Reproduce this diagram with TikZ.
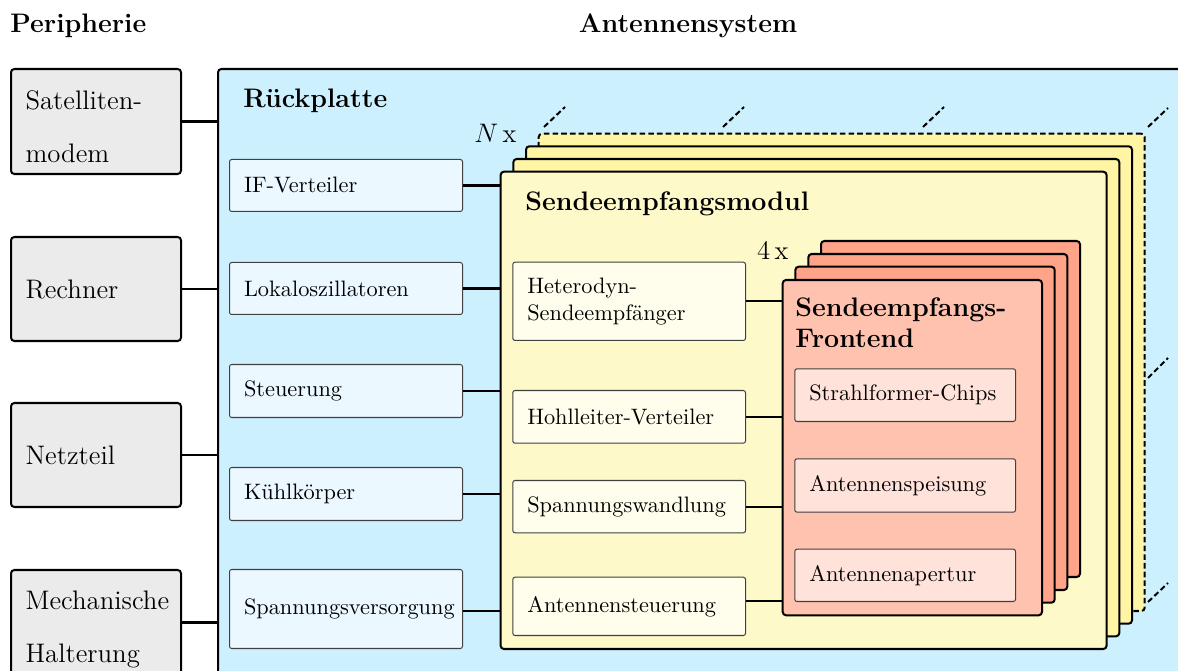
\documentclass[tikz,border=0pt]{standalone}
\definecolor{gc}{RGB}{235,235,235}
\definecolor{rpc}{RGB}{205,240,255}
\definecolor{ibc}{RGB}{235,248,255}
\definecolor{yfc}{RGB}{253,249,200}
\definecolor{ybc}{RGB}{255,245,165}
\definecolor{yic}{RGB}{255,254,236}
\definecolor{ffc}{RGB}{255,194,174}
\definecolor{fbc}{RGB}{255,164,136}
\definecolor{fic}{RGB}{255,226,218}
\newcommand\bxn[7]{%
  \pgfmathsetmacro\bxw{(#4-#2)*0.448}%
  \pgfmathsetmacro\bxh{(#5-#3)*0.448}%
  \pgfmathsetmacro\bxt{(#4-#2)*0.448-13}%
  \node[#1, anchor=north west, inner xsep=6.5pt, inner ysep=0pt,
        minimum width=\bxw pt, minimum height=\bxh pt, text width=\bxt pt,
        align=left, execute at begin node={\hyphenpenalty=10000\relax}] (#6) at (#2,#3) {#7};}
\begin{document}
\begin{tikzpicture}[x=0.448pt,y=-0.448pt,
  pbox/.style={draw=black, line width=0.9pt, fill=gc, rounded corners=1.5pt, font=\large},
  ibox/.style={draw=black!75, line width=0.45pt, rounded corners=1pt},
  card/.style={draw=black, line width=0.9pt, rounded corners=1.5pt},
  dcard/.style={card, dash pattern=on 2.5pt off 1.4pt},
  conn/.style={line width=0.9pt},
  dline/.style={line width=0.9pt, dash pattern=on 2.5pt off 1.4pt},
  title/.style={font=\large\bfseries, inner sep=0pt}]
\useasboundingbox (0,0) rectangle (1178,671);
\clip (0,0) rectangle (1178,671);

% headings
\node[title, anchor=base west] (hper) at (10,33) {Peripherie};
\node[title, anchor=base] (hant) at (688,33) {Antennensystem};

% periphery
\bxn{pbox}{10}{68}{180}{173}{sat}{\rule{0pt}{13pt}Satelliten-\\[10pt]modem}
\bxn{pbox}{10}{236}{180}{340}{rech}{Rechner}
\bxn{pbox}{10}{402}{180}{506}{netz}{Netzteil}
\bxn{pbox}{10}{569}{180}{674}{mech}{\rule{0pt}{14.5pt}Mechanische\\[10pt]Halterung}

% Rueckplatte
\bxn{card, fill=rpc}{217}{68}{1260}{730}{rp}{}
\node[title, anchor=base west] (rptitle) at (243,108) {Rückplatte};

\bxn{ibox, fill=ibc}{229}{159}{462}{211}{ifv}{IF-Verteiler}
\bxn{ibox, fill=ibc}{229}{262}{462}{314}{lo}{Lokaloszillatoren}
\bxn{ibox, fill=ibc}{229}{364}{462}{417}{steu}{Steuerung}
\bxn{ibox, fill=ibc}{229}{467}{462}{520}{kuehl}{Kühlkörper}
\bxn{ibox, fill=ibc}{229}{569}{462}{648}{svers}{Spannungsversorgung}

% periphery connectors
\draw[conn] (sat.east) -- (sat.east -| rp.west);
\draw[conn] (rech.east) -- (rech.east -| rp.west);
\draw[conn] (netz.east) -- (netz.east -| rp.west);
\draw[conn] (mech.east) -- (mech.east -| rp.west);

% perspective dashes
\draw[dline] (544,127) -- (565,107);
\draw[dline] (723,127) -- (744,107);
\draw[dline] (923,127) -- (944,107);
\draw[dline] (1148,127) -- (1168,108);
\draw[dline] (1148,378) -- (1168,358);
\draw[dline] (1148,602) -- (1168,583);

% Sendeempfangsmodul stack
\bxn{dcard, fill=ybc}{537.7}{132.7}{1143.7}{610}{sem4}{}
\bxn{card, fill=ybc}{525}{145.3}{1131}{622.7}{sem3}{}
\bxn{card, fill=ybc}{512.3}{158}{1118.3}{635.3}{sem2}{}
\bxn{card, fill=yfc}{499.6}{170.7}{1105.6}{648}{sem}{}
\node[font=\large, anchor=base east, inner sep=0pt] (nx) at (517,143) {$N$\,x};
\node[title, anchor=base west] (semtitle) at (525,211) {Sendeempfangsmodul};

\bxn{ibox, fill=yic}{512.3}{261.7}{745}{340}{het}{Heterodyn-\\Sendeempfänger}
\bxn{ibox, fill=yic}{512.3}{390}{745}{442.7}{hohl}{Hohlleiter-Verteiler}
\bxn{ibox, fill=yic}{512.3}{480}{745}{532.3}{swand}{Spannungswandlung}
\bxn{ibox, fill=yic}{512.3}{576.7}{745}{635}{ast}{Antennensteuerung}

\draw[conn] (ifv.east) -- (ifv.east -| sem.west);
\draw[conn] (lo.east) -- (lo.east -| sem.west);
\draw[conn] (steu.east) -- (steu.east -| sem.west);
\draw[conn] (kuehl.east) -- (kuehl.east -| sem.west);
\draw[conn] ([yshift=-0.7pt]svers.east) -- ([yshift=-0.7pt]svers.east -| sem.west);

% Frontend stack
\bxn{card, fill=fbc}{820}{240}{1079}{576}{fe4}{}
\bxn{card, fill=fbc}{807.3}{253}{1066.3}{589}{fe3}{}
\bxn{card, fill=fbc}{794.3}{265.7}{1053.7}{601.7}{fe2}{}
\bxn{card, fill=ffc}{781.7}{279}{1041}{614.3}{fe}{}
\node[font=\large, anchor=base east, inner sep=0pt] (fx) at (789,260) {4\,x};
\node[title, anchor=north west, align=left] (fetitle) at (795,297) {Sendeempfangs-\\Frontend};

\bxn{ibox, fill=fic}{794.3}{368.3}{1015}{421}{sfc}{Strahlformer-Chips}
\bxn{ibox, fill=fic}{794.3}{458.3}{1015}{511.7}{asp}{Antennenspeisung}
\bxn{ibox, fill=fic}{794.3}{548.7}{1015}{601}{aap}{Antennenapertur}

\draw[conn] (het.east) -- (het.east -| fe.west);
\draw[conn] (hohl.east) -- (hohl.east -| fe.west);
\draw[conn] (swand.east) -- (swand.east -| fe.west);
\draw[conn] ([yshift=2.6pt]ast.east) -- ([yshift=2.6pt]ast.east -| fe.west);
\end{tikzpicture}
\end{document}
